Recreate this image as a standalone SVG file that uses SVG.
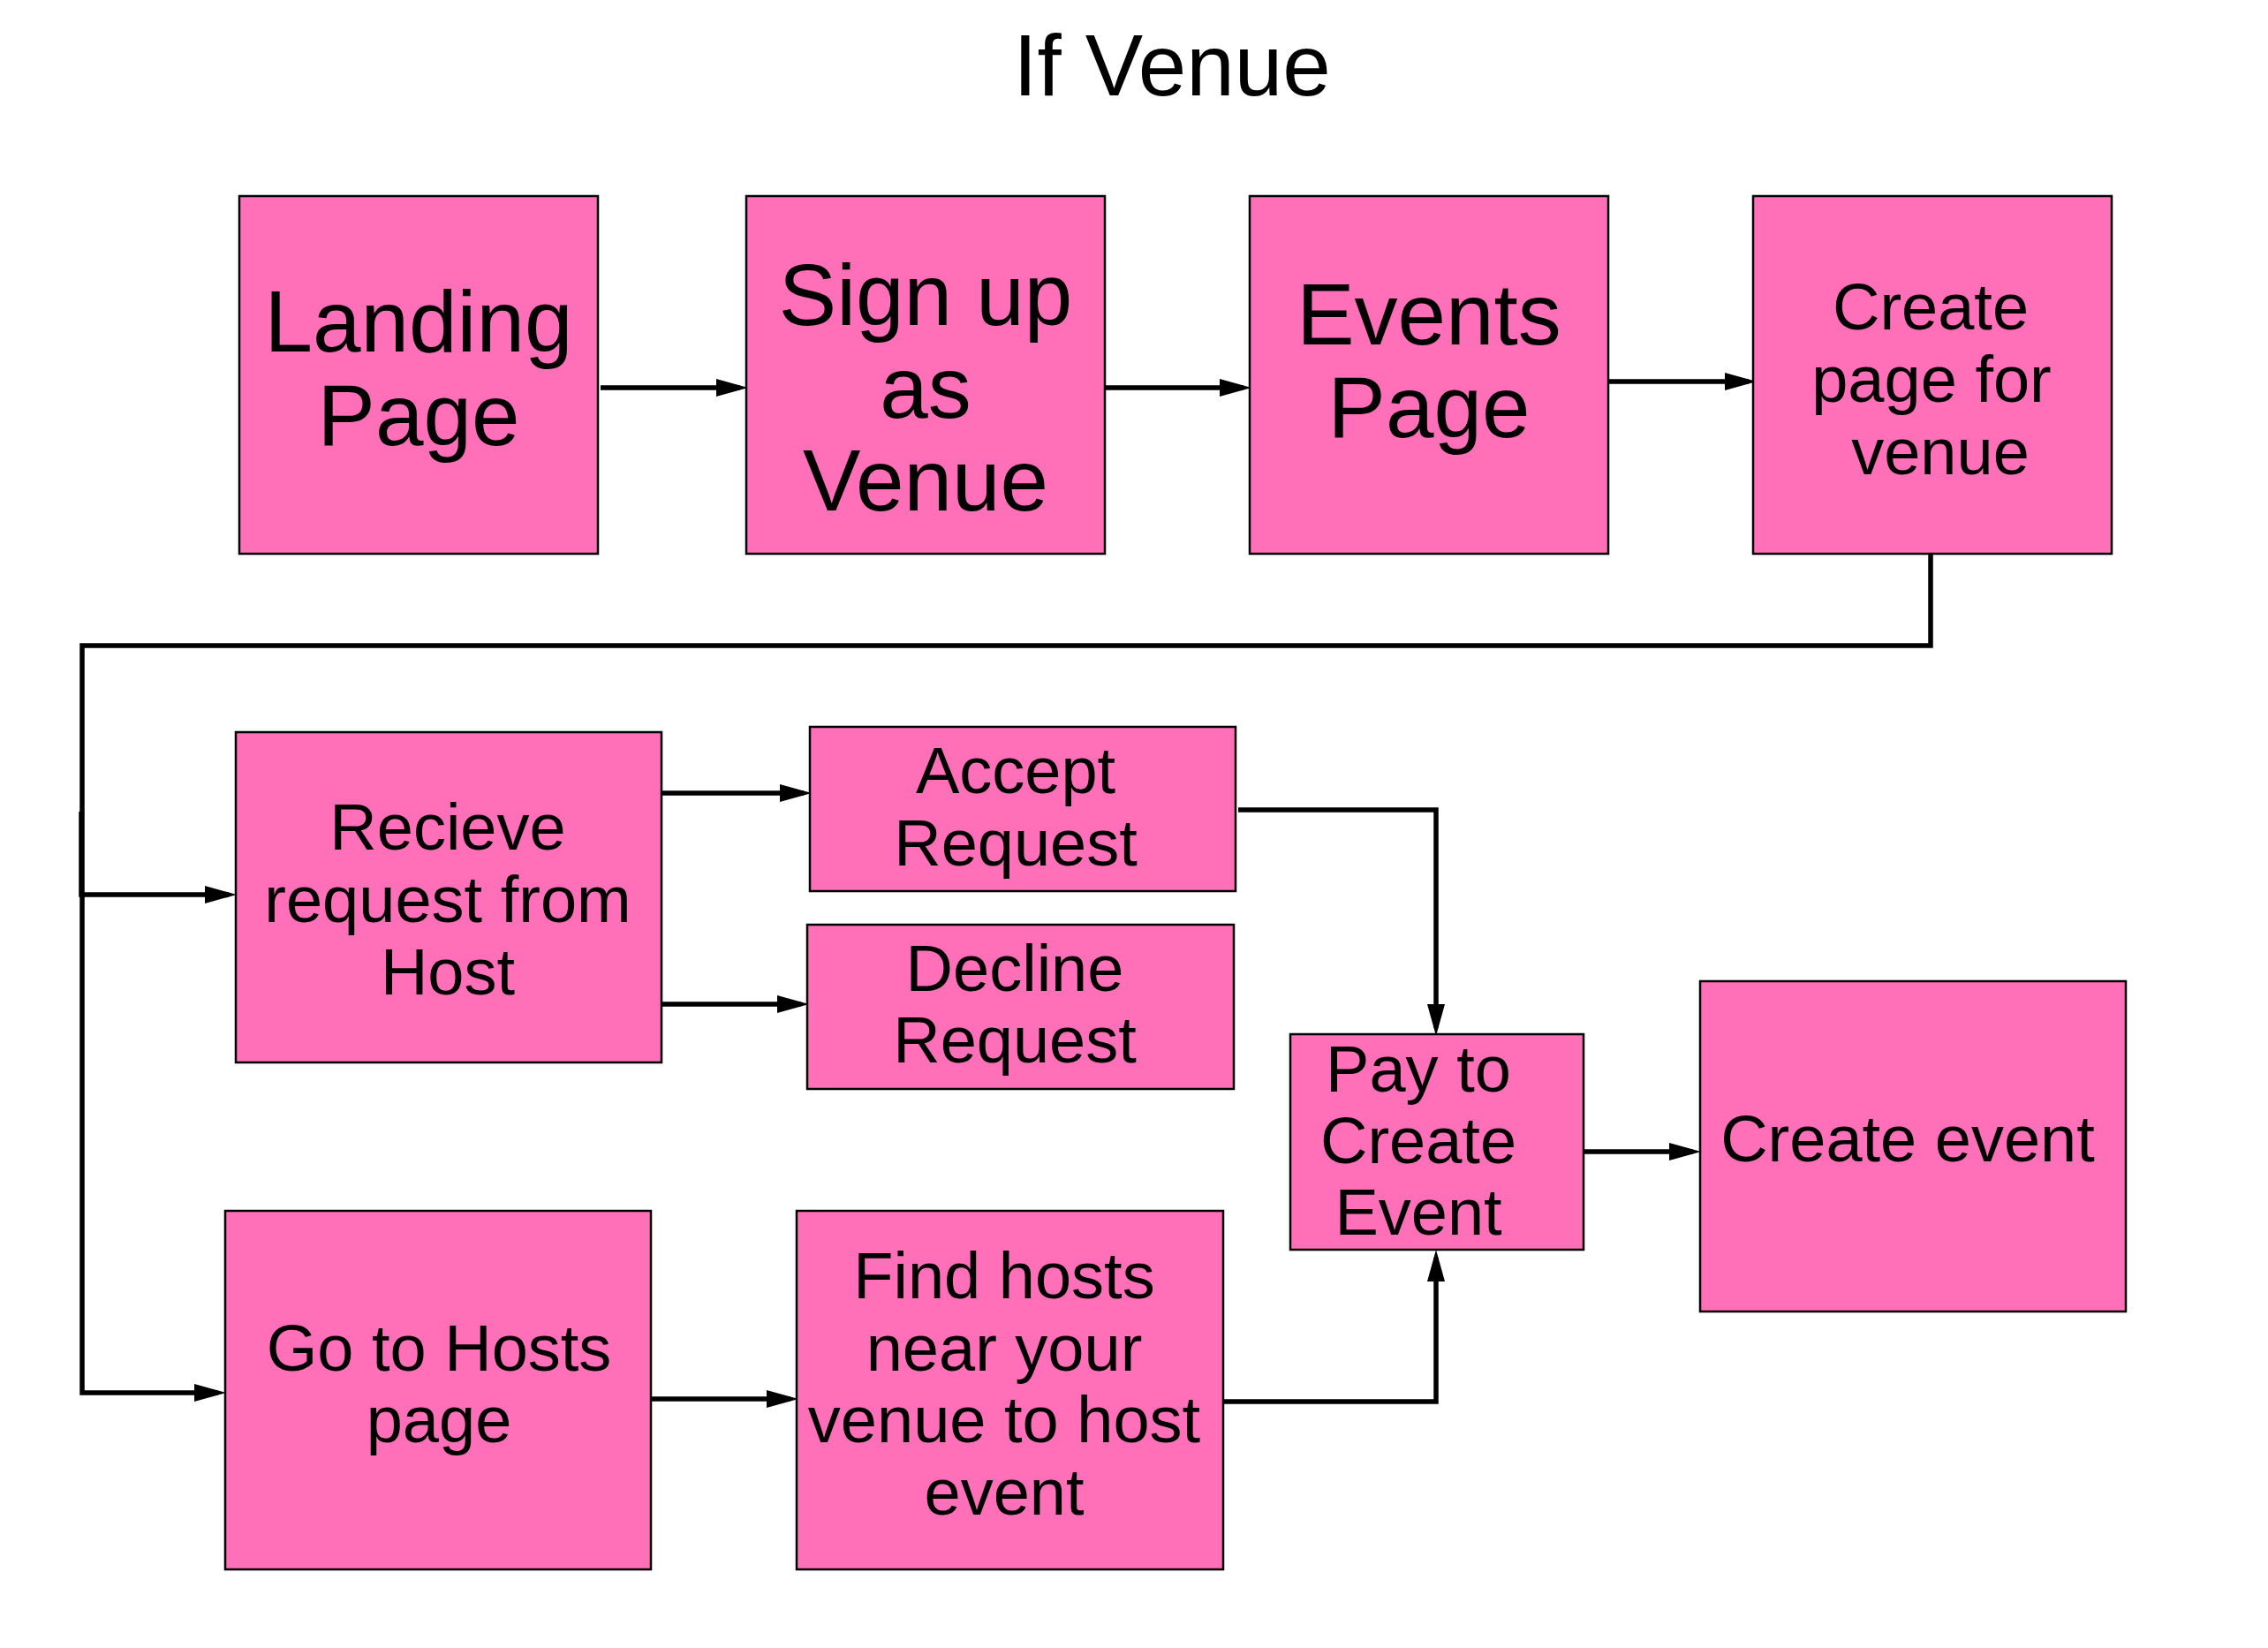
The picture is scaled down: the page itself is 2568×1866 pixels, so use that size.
<svg xmlns="http://www.w3.org/2000/svg" width="2568" height="1866" viewBox="0 0 2568 1866">
<style>
.box{fill:#ff70b8;stroke:#000;stroke-width:2.5}
.t{font-family:"Liberation Sans",Arial,sans-serif;fill:#000;text-anchor:middle}
.big{font-size:98px}
.mid{font-size:74px}
.title{font-size:98px}
.c{fill:none;stroke:#000;stroke-width:5.5;stroke-linejoin:miter}
</style>
<defs>
<marker id="ah" markerUnits="userSpaceOnUse" markerWidth="36" markerHeight="22" refX="27" refY="11" orient="auto">
<path d="M0,1 L36,11 L0,21 Z" fill="#000"/>
</marker>
</defs>
<rect width="2568" height="1866" fill="#fff"/>
<text class="t title" x="1327" y="108">If Venue</text>

<g id="connectors">
<path class="c" d="M680 439 H838" marker-end="url(#ah)"/>
<path class="c" d="M1252 439 H1408" marker-end="url(#ah)"/>
<path class="c" d="M1822 432 H1980" marker-end="url(#ah)"/>
<path class="c" d="M2186 627 V731 H93 V1577 H247" marker-end="url(#ah)"/>
<path class="c" d="M92 919 V1013 H259" marker-end="url(#ah)"/>
<path class="c" d="M749 898 H910" marker-end="url(#ah)"/>
<path class="c" d="M749 1137 H907" marker-end="url(#ah)"/>
<path class="c" d="M1402 917 H1626 V1164" marker-end="url(#ah)"/>
<path class="c" d="M1382 1587 H1626 V1424" marker-end="url(#ah)"/>
<path class="c" d="M737 1584 H895" marker-end="url(#ah)"/>
<path class="c" d="M1794 1304 H1917" marker-end="url(#ah)"/>
</g>

<g id="landing">
<rect class="box" x="271" y="222" width="406" height="405"/>
<text class="t big" x="474" y="398">Landing</text>
<text class="t big" x="474" y="504">Page</text>
</g>
<g id="signup">
<rect class="box" x="845" y="222" width="406" height="405"/>
<text class="t big" x="1048" y="368">Sign up</text>
<text class="t big" x="1048" y="473">as</text>
<text class="t big" x="1048" y="578">Venue</text>
</g>
<g id="events">
<rect class="box" x="1415" y="222" width="406" height="405"/>
<text class="t big" x="1618" y="390">Events</text>
<text class="t big" x="1618" y="495">Page</text>
</g>
<g id="createpage">
<rect class="box" x="1985" y="222" width="406" height="405"/>
<text class="t mid" x="2186" y="373">Create</text>
<text class="t mid" x="2187" y="455">page for</text>
<text class="t mid" x="2197" y="537">venue</text>
</g>
<g id="recieve">
<rect class="box" x="267" y="829" width="482" height="374"/>
<text class="t mid" x="507" y="962">Recieve</text>
<text class="t mid" x="507" y="1044">request from</text>
<text class="t mid" x="507" y="1126">Host</text>
</g>
<g id="accept">
<rect class="box" x="917" y="823" width="482" height="186"/>
<text class="t mid" x="1150" y="898">Accept</text>
<text class="t mid" x="1150" y="980">Request</text>
</g>
<g id="decline">
<rect class="box" x="914" y="1047" width="483" height="186"/>
<text class="t mid" x="1149" y="1122">Decline</text>
<text class="t mid" x="1149" y="1203">Request</text>
</g>
<g id="gotohosts">
<rect class="box" x="255" y="1371" width="482" height="406"/>
<text class="t mid" x="497" y="1552">Go to Hosts</text>
<text class="t mid" x="497" y="1633">page</text>
</g>
<g id="findhosts">
<rect class="box" x="902" y="1371" width="483" height="406"/>
<text class="t mid" x="1137" y="1470">Find hosts</text>
<text class="t mid" x="1137" y="1552">near your</text>
<text class="t mid" x="1137" y="1633">venue to host</text>
<text class="t mid" x="1137" y="1715">event</text>
</g>
<g id="pay">
<rect class="box" x="1461" y="1171" width="332" height="244"/>
<text class="t mid" x="1606" y="1236">Pay to</text>
<text class="t mid" x="1606" y="1317">Create</text>
<text class="t mid" x="1606" y="1398">Event</text>
</g>
<g id="createevent">
<rect class="box" x="1925" y="1111" width="482" height="374"/>
<text class="t mid" x="2160" y="1315">Create event</text>
</g>
</svg>
